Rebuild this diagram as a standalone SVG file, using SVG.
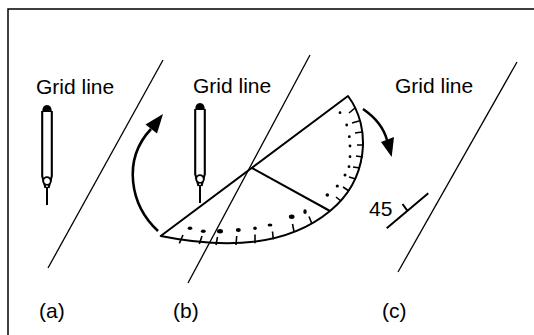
<svg xmlns="http://www.w3.org/2000/svg" width="534" height="335" viewBox="0 0 534 335">
  <style>
    .label { font-family: "Liberation Sans", Arial, sans-serif; font-size: 21px; fill: #000; }
    .grid { stroke: #000; stroke-width: 1.3; fill: none; }
    .edge { stroke: #000; stroke-width: 2; fill: none; stroke-linejoin: round; }
    .tick { stroke: #000; stroke-width: 1.6; fill: none; }
    .curve { stroke: #000; stroke-width: 2.6; fill: none; }
  </style>
  <defs>
    <!-- pencil held vertically, point down; origin at the axis, top of the cap -->
    <g id="pencil">
      <path d="M-4.8,6 V71 L-1.5,83 M4.8,6 V71 L1.5,83" stroke="#000" stroke-width="2.1" fill="none"/>
      <path d="M-4.8,7 Q-4.8,0 0,0 Q4.8,0 4.8,7 Z" fill="#000"/>
      <circle cx="0" cy="76" r="3.8" fill="#fff" stroke="#000" stroke-width="1.8"/>
      <line x1="0" y1="82" x2="0" y2="100" stroke="#000" stroke-width="2"/>
    </g>
  </defs>

  <!-- frame -->
  <path d="M8,335 V9 H534" stroke="#000" stroke-width="1.5" fill="none"/>

  <!-- (a) -->
  <g id="panel-a">
    <text class="label" x="36" y="94">Grid line</text>
    <line class="grid" x1="163" y1="60" x2="48" y2="268"/>
    <use href="#pencil" x="47" y="105"/>
    <text class="label" x="39" y="318" font-size="20">(a)</text>
  </g>

  <!-- (b) -->
  <g id="panel-b">
    <text class="label" x="193" y="93">Grid line</text>
    <line class="grid" x1="310" y1="55" x2="188" y2="283"/>
    <use href="#pencil" x="200" y="103"/>
    <g id="protractor">
      <path class="edge" d="M160.7,236 L348,96 C372,128 368,180 330,211 C295,240 240,252 160.7,236 Z"/>
      <line class="edge" x1="252" y1="168" x2="330" y2="211"/>
      <!-- scale ticks -->
      <path class="tick" d="M179.3,243.3 L183,235 M199.3,244 L202,236 M216,245 L217.5,237 M236,245 L236.7,236 M255,243.3 L255,234.5 M273.3,239.3 L272.5,231.5 M294,231.7 L292.5,224 M311.7,223.3 L309,216.5"/>
      <path class="tick" d="M355,108 L349,113 M359,121 L352,123 M362,132 L355,133 M364,145 L357,145 M363,157 L356,156 M360,168 L353,167 M356,179 L349,177 M349,191 L343,187 M341,201 L336,197"/>
      <!-- scale figures -->
      <g fill="#000">
        <ellipse cx="190" cy="228.3" rx="2.3" ry="1.7"/>
        <ellipse cx="203.3" cy="231.2" rx="2.4" ry="1.8"/>
        <ellipse cx="220" cy="231.2" rx="3" ry="2.2"/>
        <ellipse cx="238.3" cy="230" rx="2.5" ry="1.9"/>
        <ellipse cx="255" cy="228.3" rx="1.8" ry="1.8"/>
        <ellipse cx="270" cy="225" rx="2.4" ry="1.6"/>
        <ellipse cx="291.7" cy="216.7" rx="2.8" ry="2.2"/>
        <ellipse cx="305" cy="211.7" rx="1.7" ry="2.4"/>
        <circle cx="340" cy="112.7" r="1.4"/>
        <circle cx="346.7" cy="125" r="1.4"/>
        <circle cx="349.3" cy="136.7" r="1.4"/>
        <circle cx="350" cy="146" r="1.4"/>
        <circle cx="350" cy="156.7" r="1.4"/>
        <circle cx="349" cy="166.7" r="1.4"/>
        <circle cx="345" cy="175" r="1.5"/>
        <circle cx="337.3" cy="186" r="1.6"/>
        <circle cx="327.3" cy="195" r="1.8"/>
      </g>
    </g>
    <text class="label" x="173" y="318" font-size="20">(b)</text>
  </g>

  <!-- (c) -->
  <g id="panel-c">
    <text class="label" x="395" y="93">Grid line</text>
    <line class="grid" x1="517" y1="62" x2="398" y2="272"/>
    <path class="edge" d="M386.7,228.3 L428.3,193.3 M402.5,204 L407.5,210.8"/>
    <text class="label" x="369" y="216" font-size="20">45</text>
    <text class="label" x="382" y="318" font-size="20">(c)</text>
  </g>

  <!-- rotation arrows -->
  <g id="connectors">
    <path class="curve" d="M158,231 C130,205 122,160 151,129"/>
    <path d="M163,114 L145.5,124.5 L157,133.5 Z" fill="#000"/>
    <path class="curve" d="M363,109 Q382,122 387,140"/>
    <path d="M391.7,157 L381,142 L394,137 Z" fill="#000"/>
  </g>
</svg>
